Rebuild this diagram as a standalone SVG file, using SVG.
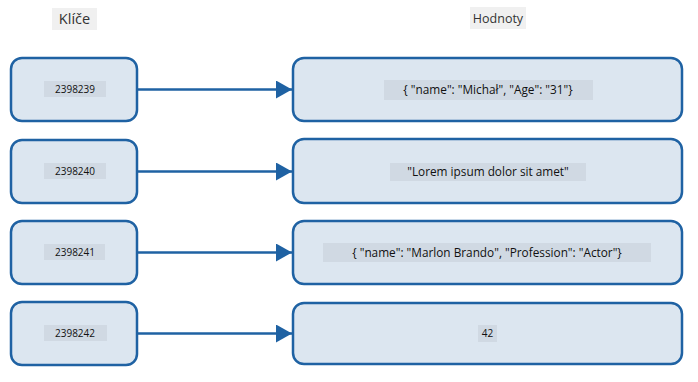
<svg xmlns="http://www.w3.org/2000/svg" width="698" height="382" viewBox="0 0 698 382">
<style>
.box{fill:#dce6f0;stroke:#1f62a3;stroke-width:2.5}
.lbl{fill:#d0d9e3}
.ttl{fill:#f0f0f0}
.t{font-family:"Open Sans","Noto Sans",sans-serif;fill:#111;text-anchor:middle}
.k{font-size:10px}
.v{font-size:11.8px}
.h{font-size:12.5px;fill:#333}
.c{stroke:#1f62a3;stroke-width:2.5;fill:none}
</style>
<defs>
<marker id="arr" markerWidth="6.4" markerHeight="7.2" refX="6.4" refY="3.6" orient="auto" markerUnits="strokeWidth" viewBox="0 0 6.4 7.2">
<path d="M0,0 L6.4,3.6 L0,7.2 Z" fill="#1f62a3"/>
</marker>
</defs>
<rect width="698" height="382" fill="#fff"/>
<g id="title-keys"><rect class="ttl" x="52" y="8" width="45" height="22"/><text class="t h" x="74.5" y="24" style="font-size:14.5px">Klíče</text></g>
<g id="title-values"><rect class="ttl" x="470" y="7" width="56" height="22"/><text class="t h" x="498" y="22.5">Hodnoty</text></g>
<g id="connectors">
<line class="c" x1="137" y1="89.5" x2="292" y2="89.5" marker-end="url(#arr)"/>
<line class="c" x1="137" y1="171.5" x2="292" y2="171.5" marker-end="url(#arr)"/>
<line class="c" x1="137" y1="252.5" x2="292" y2="252.5" marker-end="url(#arr)"/>
<line class="c" x1="137" y1="333.5" x2="292" y2="333.5" marker-end="url(#arr)"/>
</g>
<g id="key1"><rect class="box" x="11" y="58" width="126" height="63" rx="11"/><rect class="lbl" x="44" y="81" width="62" height="16"/><text class="t k" x="75" y="92.5">2398239</text></g>
<g id="key2"><rect class="box" x="11" y="140" width="126" height="63" rx="11"/><rect class="lbl" x="44" y="163" width="62" height="16"/><text class="t k" x="75" y="174.5">2398240</text></g>
<g id="key3"><rect class="box" x="11" y="221" width="126" height="63" rx="11"/><rect class="lbl" x="44" y="244" width="61" height="16"/><text class="t k" x="75" y="255.5">2398241</text></g>
<g id="key4"><rect class="box" x="11" y="302" width="126" height="63" rx="11"/><rect class="lbl" x="44" y="325" width="63" height="16"/><text class="t k" x="75" y="336.5">2398242</text></g>
<g id="value1"><rect class="box" x="293" y="58" width="389" height="63" rx="11"/><rect class="lbl" x="384" y="80" width="209" height="20"/><text class="t v" x="488" y="94">{ "name": "Michał", "Age": "31"}</text></g>
<g id="value2"><rect class="box" x="293" y="139" width="389" height="64" rx="11"/><rect class="lbl" x="390" y="163" width="196" height="18"/><text class="t v" x="488" y="176">"Lorem ipsum dolor sit amet"</text></g>
<g id="value3"><rect class="box" x="293" y="221" width="389" height="63" rx="11"/><rect class="lbl" x="323" y="243" width="328" height="19"/><text class="t v" x="487" y="256.5">{ "name": "Marlon Brando", "Profession": "Actor"}</text></g>
<g id="value4"><rect class="box" x="293" y="303" width="389" height="61" rx="11"/><rect class="lbl" x="478" y="325" width="19" height="17"/><text class="t k" x="487.5" y="337">42</text></g>
</svg>
